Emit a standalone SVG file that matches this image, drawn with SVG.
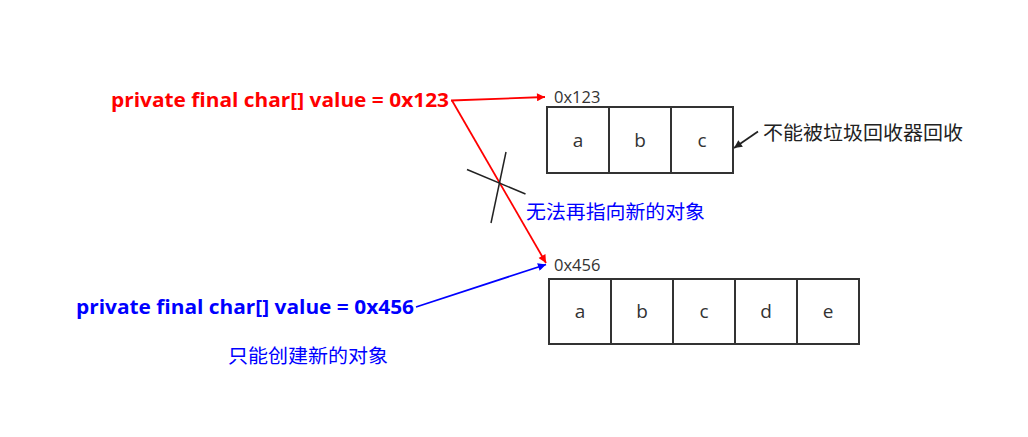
<svg xmlns="http://www.w3.org/2000/svg" width="1028" height="437" viewBox="0 0 1028 437">
<style>
.cell{fill:#fff;stroke:#333;stroke-width:2}
.ct{font-family:"Open Sans","Noto Sans",sans-serif;font-size:19px;fill:#333;text-anchor:middle}
.addr{font-family:"Open Sans","Noto Sans",sans-serif;font-size:16.5px;fill:#333}
.code{font-family:"Open Sans","Noto Sans",sans-serif;font-size:20px;font-weight:bold}
.cjk{font-family:"Noto Sans CJK SC",sans-serif;font-size:19.5px}
</style>
<defs>
<marker id="ar" viewBox="0 0 10 10" refX="10" refY="5" markerWidth="14" markerHeight="8" markerUnits="userSpaceOnUse" orient="auto"><path d="M0,0L10,5L0,10z" fill="#f00"/></marker>
<marker id="ab" viewBox="0 0 10 10" refX="10" refY="5" markerWidth="14" markerHeight="8" markerUnits="userSpaceOnUse" orient="auto"><path d="M0,0L10,5L0,10z" fill="#00f"/></marker>
<marker id="ak" viewBox="0 0 10 10" refX="10" refY="5" markerWidth="14" markerHeight="8" markerUnits="userSpaceOnUse" orient="auto"><path d="M0,0L10,5L0,10z" fill="#222"/></marker>
</defs>
<rect width="1028" height="437" fill="#fff"/>
<g id="var1">
<text class="code" x="111" y="107" fill="#f00" textLength="338" lengthAdjust="spacingAndGlyphs">private final char[] value = 0x123</text>
</g>
<g id="var2">
<text class="code" x="76" y="314" fill="#00f" textLength="338" lengthAdjust="spacingAndGlyphs">private final char[] value = 0x456</text>
</g>
<g id="arr1">
<text class="addr" x="554" y="103">0x123</text>
<rect class="cell" x="547" y="107" width="62" height="66"/>
<rect class="cell" x="609" y="107" width="62" height="66"/>
<rect class="cell" x="671" y="107" width="62" height="66"/>
<text class="ct" x="578" y="147">a</text>
<text class="ct" x="640" y="147">b</text>
<text class="ct" x="702" y="147">c</text>
</g>
<g id="arr2">
<text class="addr" x="554" y="271">0x456</text>
<rect class="cell" x="549" y="279" width="62" height="65"/>
<rect class="cell" x="611" y="279" width="62" height="65"/>
<rect class="cell" x="673" y="279" width="62" height="65"/>
<rect class="cell" x="735" y="279" width="62" height="65"/>
<rect class="cell" x="797" y="279" width="62" height="65"/>
<text class="ct" x="580" y="318">a</text>
<text class="ct" x="642" y="318">b</text>
<text class="ct" x="704" y="318">c</text>
<text class="ct" x="766" y="318">d</text>
<text class="ct" x="828" y="318">e</text>
</g>
<g id="note1">
<text class="cjk" x="763" y="140" fill="#222" textLength="200" lengthAdjust="spacingAndGlyphs">不能被垃圾回收器回收</text>
</g>
<g id="note2">
<text class="cjk" x="526" y="219" fill="#00f" textLength="179" lengthAdjust="spacingAndGlyphs">无法再指向新的对象</text>
</g>
<g id="note3">
<text class="cjk" x="228" y="363" fill="#00f" textLength="160" lengthAdjust="spacingAndGlyphs">只能创建新的对象</text>
</g>
<g id="connectors" fill="none" stroke-width="1.8">
<line x1="451" y1="100.5" x2="545" y2="97" stroke="#f00" marker-end="url(#ar)"/>
<line x1="452" y1="100.5" x2="546" y2="263" stroke="#f00" marker-end="url(#ar)"/>
<line x1="416" y1="307" x2="546" y2="264.5" stroke="#00f" marker-end="url(#ab)"/>
<line x1="758" y1="131.5" x2="734" y2="148" stroke="#222" marker-end="url(#ak)"/>
<line x1="467" y1="169.5" x2="525.5" y2="194" stroke="#222" stroke-width="1.5"/>
<line x1="506" y1="152" x2="491" y2="223" stroke="#222" stroke-width="1.5"/>
</g>
</svg>
